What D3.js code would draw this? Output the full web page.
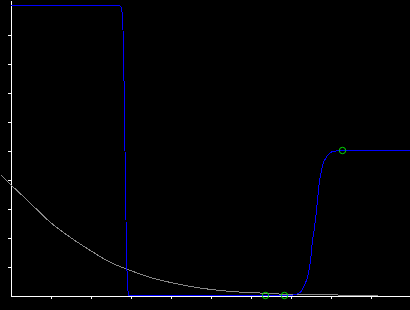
<!DOCTYPE html>
<html>
<head>
<meta charset="utf-8">
<script src="https://cdn.jsdelivr.net/npm/d3@7"></script>
<style>
  html, body { margin: 0; padding: 0; background: #000; }
  svg { display: block; }
</style>
</head>
<body>
<div class="chart"></div>
<script>
// curva azul (escalon y sigmoide)
var blueX = [0, 2.725, 2.75, 2.775, 2.8, 2.8125, 2.825, 2.8375, 2.85, 2.8625, 2.875, 2.8875, 2.9, 2.9125, 2.925, 2.9375, 2.9625,
             7.0, 7.125, 7.25, 7.325, 7.4, 7.45, 7.5, 7.55, 7.6, 7.65, 7.725, 7.775, 7.825, 7.925, 8.0, 8.125, 8.25, 10];
var blueY = [1, 1, 0.997, 0.99, 0.966, 0.914, 0.817, 0.741, 0.672, 0.5, 0.341, 0.259, 0.148, 0.086, 0.052, 0.017, 0,
             0, 0.003, 0.011, 0.029, 0.052, 0.076, 0.117, 0.19, 0.234, 0.293, 0.397, 0.431, 0.46, 0.483, 0.494, 0.498, 0.5, 0.5];

// curva gris (decaimiento)
var grayX = [-0.25, 0, 0.425, 1.0, 1.5, 2.0, 2.5, 3.0, 3.5, 4.0, 4.5, 5.0, 5.5, 6.0, 6.5, 7.0, 8.0, 9.2];
var grayY = [0.417, 0.383, 0.328, 0.252, 0.2, 0.155, 0.114, 0.086, 0.062, 0.045, 0.031, 0.021, 0.014, 0.010, 0.007, 0.003, 0.002, 0];

// marcadores verdes
var markX = [6.375, 6.85, 8.3];
var markY = [0, 0, 0.5];

var xTicks = [1, 2, 3, 4, 5, 6, 7, 8, 9, 10];
var yTicks = [0.1, 0.2, 0.3, 0.4, 0.5, 0.6, 0.7, 0.8, 0.9];

var width = 410, height = 310;

var svg = d3.select('.chart')
    .append('svg')
    .attr("width", width)
    .attr("height", height);

svg.append("rect")
    .attr("width", width)
    .attr("height", height)
    .attr("fill", "#000");

var x = d3.scaleLinear()
    .domain([0, 10])
    .range([10.5, 410.5]);

var y = d3.scaleLinear()
    .domain([0, 295 / 290])
    .range([295.5, 0.5]);

var xAxis = d3.axisBottom(x)
    .tickValues(xTicks)
    .tickSize(3)
    .tickSizeOuter(0)
    .tickFormat("");

var yAxis = d3.axisLeft(y)
    .tickValues(yTicks)
    .tickSize(3)
    .tickSizeOuter(0)
    .tickFormat("");

var gx = svg.append("g")
    .attr("transform", "translate(0," + y(0) + ")")
    .call(xAxis);

var gy = svg.append("g")
    .attr("transform", "translate(" + x(0) + ",0)")
    .call(yAxis);

[gx, gy].forEach(function(g) {
    g.selectAll("path, line")
        .attr("stroke", "#fff")
        .attr("shape-rendering", "crispEdges");
});

function toPts(xs, ys) {
    return xs.map(function(d, i) { return [d, ys[i]]; });
}

var line = d3.line()
    .x(function(d) { return x(d[0]); })
    .y(function(d) { return y(d[1]); })
    .curve(d3.curveMonotoneX);

svg.append("path")
    .datum(toPts(grayX, grayY))
    .attr("fill", "none")
    .attr("stroke", "#888")
    .attr("stroke-width", 1)
    .attr("shape-rendering", "crispEdges")
    .attr("d", line);

svg.append("path")
    .datum(toPts(blueX, blueY))
    .attr("fill", "none")
    .attr("stroke", "#0000ff")
    .attr("stroke-width", 1)
    .attr("shape-rendering", "crispEdges")
    .attr("d", d3.line()
        .x(function(d) { return x(d[0]); })
        .y(function(d) { return y(d[1]); }));

svg.selectAll("circle.mark")
    .data(toPts(markX, markY))
    .enter().append("circle")
    .attr("class", "mark")
    .attr("cx", function(d) { return x(d[0]); })
    .attr("cy", function(d) { return y(d[1]); })
    .attr("r", 3.2)
    .attr("fill", "none")
    .attr("stroke", "#00dd00")
    .attr("stroke-width", 1);
</script>
</body>
</html>
